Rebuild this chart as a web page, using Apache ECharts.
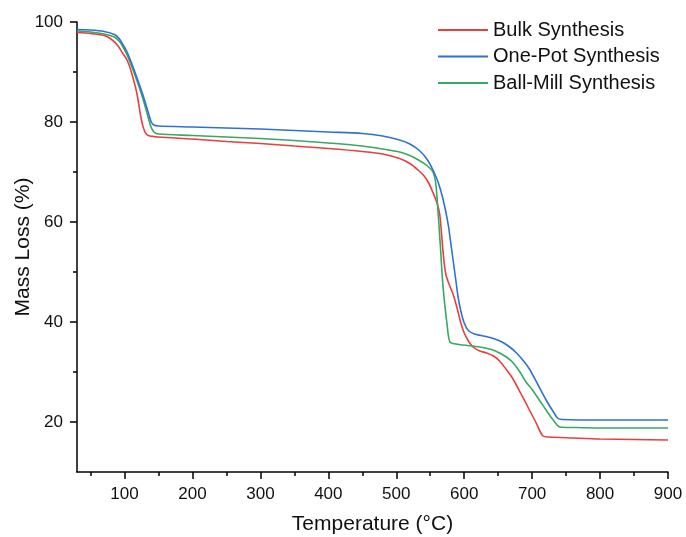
<!DOCTYPE html>
<html>
<head>
<meta charset="utf-8">
<script src="https://cdn.jsdelivr.net/npm/echarts@6/dist/echarts.min.js"></script>
<style>html,body{margin:0;padding:0;background:#fff}#c{width:686px;height:537px}</style>
</head>
<body>
<div id="c"></div>
<script>
const seriesNames = ['Bulk Synthesis', 'One-Pot Synthesis', 'Ball-Mill Synthesis'];
const xMajorTicks = [100, 200, 300, 400, 500, 600, 700, 800, 900];
const xMinorTicks = [50, 150, 250, 350, 450, 550, 650, 750, 850];
const yMajorTicks = [20, 40, 60, 80, 100];
const yMinorTicks = [30, 50, 70, 90];

const bulkT = [30,50,70,80,90,97,104,110,118,125,130,135,150,200,250,300,350,400,450,480,505,520,532,541,548,554,560,564,567,570,573,576,580,585,590,595,600,607,613,623,633,643,652,662,671,683,696,706,716,725,760,800,850,900];
const bulkV = [97.9,97.7,97.3,96.6,95.3,93.8,92.3,90,85.8,80.3,78,77.3,77.0,76.6,76.1,75.7,75.2,74.7,74.1,73.6,72.7,71.7,70.4,69.2,67.7,65.9,63.8,61.5,57,52.5,49.5,48.2,46.8,45,42.5,39.8,37.8,36,35,34.2,33.8,33.2,32.2,30.5,28.8,25.8,22.4,19.8,17.2,17.0,16.8,16.6,16.5,16.4];

const onePotT = [30,50,70,85,92,97,103,110,116,122,128,134,139,143,150,200,250,300,350,400,450,480,505,520,534,545,554,562,568,573,577,581,584,588,591,595,600,606,615,625,635,645,657,667,677,688,696,708,721,731,738,745,800,900];
const onePotV = [98.5,98.4,98.1,97.5,96.7,95.6,94.2,91.9,89.7,87.4,85,82.3,80.1,79.4,79.2,79.0,78.8,78.6,78.3,78.0,77.7,77.2,76.4,75.6,74.3,72.6,70.4,67.8,65,62,59,55,52,48,45,42.2,39.8,38.3,37.6,37.3,37,36.6,35.9,35,33.8,32.1,30.6,27.6,24.3,22.1,20.7,20.5,20.4,20.4];

const ballMillT = [30,50,70,85,92,97,103,110,116,122,128,134,139,144,150,200,250,300,350,400,450,480,505,520,534,545,554,558,561,563,565,568,571,574,577,579,583,598,623,640,652,662,671,682,691,700,711,721,731,741,760,800,900];
const ballMillV = [98.2,98.0,97.6,97.0,96.2,95.2,93.6,91.3,89.1,86.8,84.2,81.3,79,77.9,77.6,77.3,77.0,76.7,76.3,75.8,75.2,74.6,74.0,73.3,72.3,71.3,70,67.8,63,59,55,48.5,44,40.4,37,36.0,35.7,35.4,35,34.5,33.8,33,32,30,28,26.5,24.3,22.3,20.4,19,18.9,18.8,18.8];

const colors = ['#ea3e3e', '#2e72d2', '#38a862'];
const pairs = (t, v) => t.map((x, i) => [x, v[i]]);
const allData = [pairs(bulkT, bulkV), pairs(onePotT, onePotV), pairs(ballMillT, ballMillV)];

const FONT = 'Liberation Sans, Arial, sans-serif';
const axisLineStyle = { color: '#000', width: 1.5 };

const chart = echarts.init(document.getElementById('c'), null, { renderer: 'canvas' });
chart.setOption({
  animation: false,
  backgroundColor: '#fff',
  grid: { left: 77, right: 18, top: 22, bottom: 65, containLabel: false, outerBoundsMode: 'none' },
  legend: {
    orient: 'vertical',
    left: 438,
    top: 20,
    padding: 0,
    icon: 'path://M0,0 L50,0 L50,2 L0,2 Z',
    itemWidth: 50,
    itemHeight: 2,
    itemGap: 6.5,
    textStyle: { fontFamily: FONT, fontSize: 20, color: '#111', lineHeight: 20 },
    data: seriesNames
  },
  xAxis: [
    {
      type: 'value', min: 30, max: 900,
      name: 'Temperature (°C)', nameLocation: 'middle', nameGap: 42, nameMoveOverlap: false,
      nameTextStyle: { fontFamily: FONT, fontSize: 21, color: '#111' },
      axisLine: { show: true, lineStyle: axisLineStyle },
      axisTick: { show: true, length: 7, lineStyle: axisLineStyle, customValues: xMajorTicks },
      axisLabel: { fontFamily: FONT, fontSize: 17, color: '#111', margin: 14, customValues: xMajorTicks },
      splitLine: { show: false }
    },
    {
      type: 'value', min: 30, max: 900, position: 'bottom',
      axisLine: { show: false },
      axisTick: { show: true, length: 4, lineStyle: axisLineStyle, customValues: xMinorTicks },
      axisLabel: { show: false },
      splitLine: { show: false }
    }
  ],
  yAxis: [
    {
      type: 'value', min: 10, max: 100,
      name: 'Mass Loss (%)', nameLocation: 'middle', nameGap: 43, nameMoveOverlap: false,
      nameTextStyle: { fontFamily: FONT, fontSize: 21, color: '#111' },
      axisLine: { show: true, lineStyle: axisLineStyle },
      axisTick: { show: true, length: 7, lineStyle: axisLineStyle, customValues: yMajorTicks },
      axisLabel: { fontFamily: FONT, fontSize: 17, color: '#111', margin: 14, customValues: yMajorTicks },
      splitLine: { show: false }
    },
    {
      type: 'value', min: 10, max: 100, position: 'left',
      axisLine: { show: false },
      axisTick: { show: true, length: 4, lineStyle: axisLineStyle, customValues: yMinorTicks },
      axisLabel: { show: false },
      splitLine: { show: false }
    }
  ],
  series: seriesNames.map((n, i) => ({
    name: n,
    type: 'line',
    xAxisIndex: 0,
    yAxisIndex: 0,
    data: allData[i],
    showSymbol: false,
    symbol: 'none',
    smooth: 0.3,
    lineStyle: { color: colors[i], width: 1.6 },
    itemStyle: { color: colors[i] },
    z: i === 1 ? 3 : (i === 2 ? 2 : 1)
  }))
});
</script>
</body>
</html>
